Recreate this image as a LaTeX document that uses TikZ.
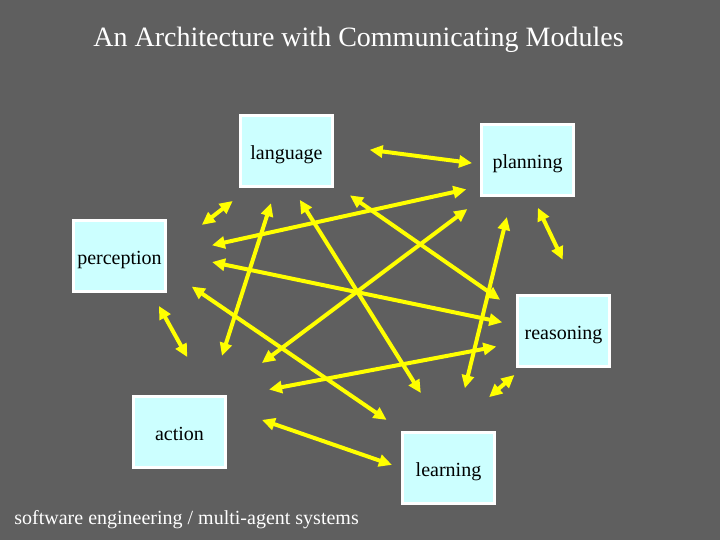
\documentclass[tikz,border=0pt]{standalone}
\usepackage{fontspec}
\setmainfont{Liberation Serif}
\usepackage{tikz}
\usetikzlibrary{arrows.meta}
\usepackage{xcolor}
\definecolor{slidebg}{HTML}{5F5F5F}
\definecolor{modfill}{HTML}{CCFFFF}
\definecolor{linkcol}{HTML}{FFFF00}
\tikzset{
  module/.style={draw=white, fill=modfill, line width=1.5pt, inner sep=0pt,
                 minimum width=46pt, minimum height=35.5pt, align=center,
                 text height=9pt, text depth=0pt,
                 font=\fontsize{10pt}{12pt}\selectfont, text=black},
  link/.style={{Triangle[length=6.5pt, width=6pt]}-{Triangle[length=6.5pt, width=6pt]},
               draw=linkcol, line width=2pt},
  slidetext/.style={text=white, inner sep=0pt},
}

\begin{document}
\begin{tikzpicture}[x=0.5pt, y=-0.5pt]

%% ====================  BACKGROUND  ====================

\fill[slidebg] (0,0) rectangle (720,540);
\useasboundingbox (0,0) rectangle (720,540);

%% ====================  TITLE  ====================

\node[slidetext, anchor=base, font=\fontsize{14pt}{16pt}\selectfont]
  (title) at (358.5,47) {An Architecture with Communicating Modules};

%% ====================  MODULES  ====================

\node[module] (language)   at (286.5,151) {language};
\node[module] (planning)   at (527.5,160) {planning};
\node[module] (perception) at (119.5,256) {perception};
\node[module] (reasoning)  at (563.5,331) {reasoning};
\node[module] (action)     at (179.5,432) {action};
\node[module] (learning)   at (448.5,468) {learning};

%% ====================  LINKS  ====================

\draw[link, shorten <=18pt, shorten >=4pt]    (language.7)    -- (planning.185);
\draw[link, shorten <=10.6pt, shorten >=22pt] (language.225)  -- (perception.5);
\draw[link, shorten <=9.7pt, shorten >=9.7pt] (language.-35)  -- (reasoning.157);
\draw[link, shorten <=8pt, shorten >=20.5pt]  (language.254)  -- (action.51);
\draw[link, shorten <=7pt, shorten >=22.4pt]  (language.-81)  -- (learning.96);

\draw[link, shorten <=7pt, shorten >=23pt]    (planning.209)  -- (perception.1);
\draw[link, shorten <=6pt, shorten >=19pt]    (planning.-82)  -- (reasoning.67);
\draw[link, shorten <=10pt, shorten >=26.7pt] (planning.220)  -- (action.43);
\draw[link, shorten <=10.3pt, shorten >=22pt] (planning.247)  -- (learning.81);

\draw[link, shorten <=23pt, shorten >=7pt]    (perception.4)  -- (reasoning.173);
\draw[link, shorten <=7.4pt, shorten >=21.7pt] (perception.-49) -- (action.52);
\draw[link, shorten <=15pt, shorten >=9.8pt]  (perception.-16) -- (learning.141);

\draw[link, shorten <=10pt, shorten >=21.4pt] (reasoning.194) -- (action.36);
\draw[link, shorten <=5.3pt, shorten >=25.7pt] (reasoning.222) -- (learning.87);

\draw[link, shorten <=18.5pt, shorten >=4.8pt] (action.27)    -- (learning.180);

%% ====================  FOOTER  ====================

\node[slidetext, anchor=base west, font=\fontsize{10pt}{12pt}\selectfont]
  (footer) at (14,525) {software engineering / multi-agent systems};

\end{tikzpicture}
\end{document}
